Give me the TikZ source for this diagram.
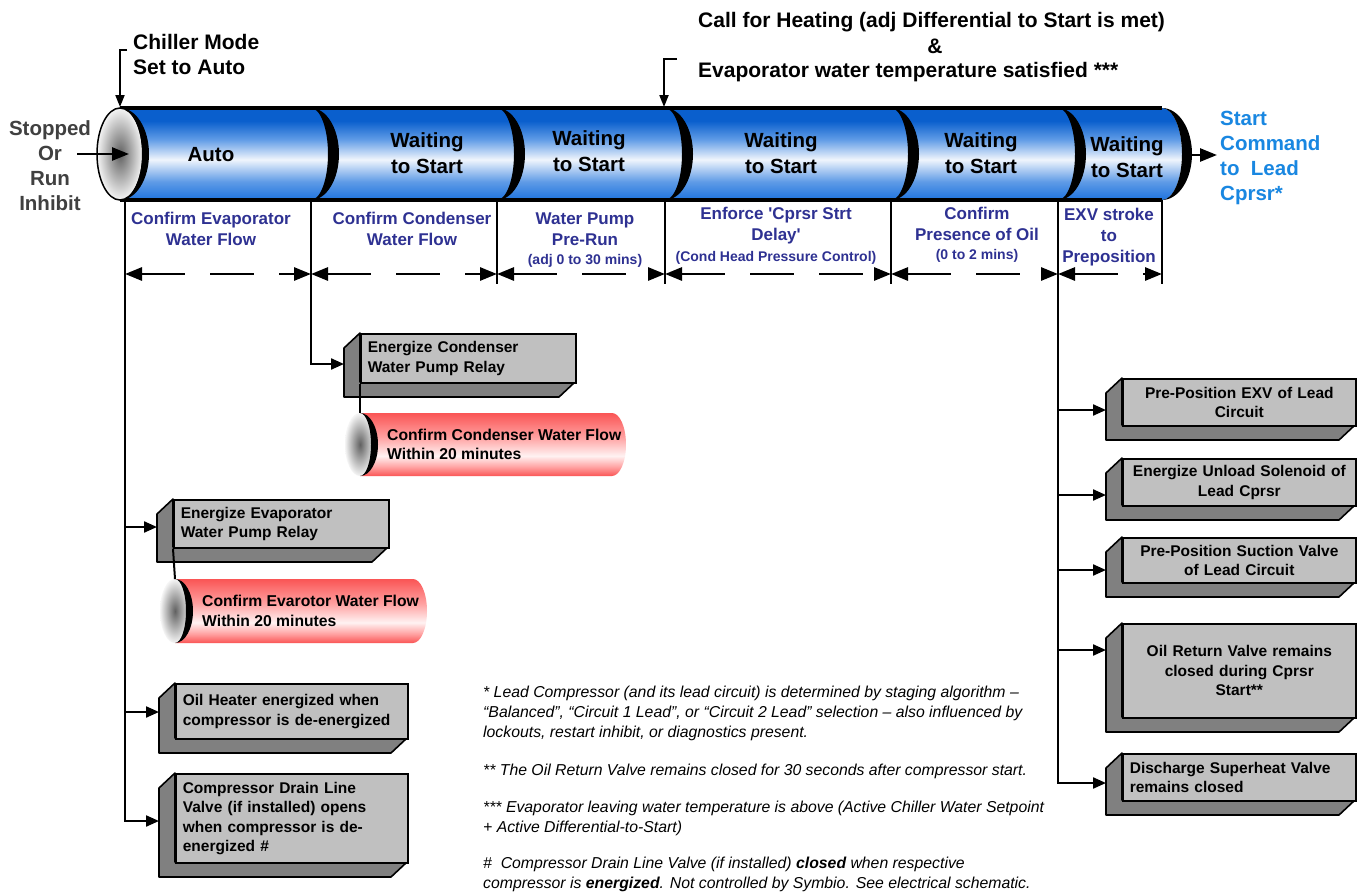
\documentclass[tikz,border=0pt]{standalone}
\usepackage{fontspec}
\setmainfont{Liberation Sans}
\usetikzlibrary{arrows.meta}
\definecolor{lblc}{RGB}{46,49,146}
\definecolor{cmdc}{RGB}{25,135,225}
\definecolor{stopc}{RGB}{64,64,64}
\definecolor{frontc}{RGB}{192,192,192}
\definecolor{sidec}{RGB}{128,128,128}
\definecolor{bdark}{RGB}{10,95,205}
\definecolor{bbot}{RGB}{30,115,222}
\definecolor{bmid}{RGB}{95,155,230}
\definecolor{blight}{RGB}{240,245,252}
\definecolor{rdark}{RGB}{250,85,85}
\definecolor{rmid}{RGB}{255,160,160}
\definecolor{rlight}{RGB}{255,242,242}
\pgfdeclareverticalshading{bluecyl}{100bp}{color(0bp)=(bbot); color(25bp)=(bbot); color(35bp)=(bmid); color(47bp)=(blight); color(58bp)=(bmid); color(68bp)=(bdark); color(75bp)=(bdark); color(100bp)=(bdark)}
\pgfdeclareverticalshading{redcyl}{100bp}{color(0bp)=(rdark); color(25bp)=(rdark); color(32bp)=(rmid); color(41bp)=(rlight); color(56bp)=(rmid); color(75bp)=(rdark); color(100bp)=(rdark)}

\newcommand{\tdbox}[8]{%
  \filldraw[face3d] (#2,#3) -- (#2-16,#3+15) -- (#2-16,#5+15) -- (#4-16,#5+15) -- (#4,#5) -- (#2,#5) -- cycle;
  \pgfmathsetmacro\tdw{#4-#2}%
  \pgfmathsetmacro\tdt{#4-#2-14}%
  \pgfmathsetmacro\tdh{#5-#3}%
  \node[boxface, anchor=north west, minimum width=\tdw pt, minimum height=\tdh pt, text width=\tdt pt, align=#6] (#1) at (#2,#3) {#7};
  \coordinate (#1-in) at (#2-16,#8);
}
\newcommand{\redcyl}[6]{%
  \pgfmathsetmacro\rcy{(#4+#5)/2}%
  \pgfmathsetmacro\rcr{(#5-#4)/2}%
  \shade[shading=redcyl] (#2,#4) -- (#3,#4) arc[start angle=-90,end angle=90,x radius=14,y radius=\rcr] -- (#2,#5) -- cycle;
  \shade[inner color=black!62, outer color=black!4] (#2,\rcy) ellipse[x radius=15,y radius=\rcr];
  \fill (#2,#4) arc[start angle=-90,end angle=90,x radius=18,y radius=\rcr] arc[start angle=90,end angle=-90,x radius=11,y radius=\rcr] -- cycle;
  \node[redtxt, anchor=west] (#1) at (#2+27,\rcy) {#6};
  \coordinate (#1-top) at (#2,#4);
}

\begin{document}
\begin{tikzpicture}[x=1pt,y=-1pt,
  cyltxt/.style={font=\fontsize{20.5}{26}\selectfont\bfseries, align=center, inner sep=0pt},
  lbltxt/.style={font=\fontsize{17}{21}\selectfont\bfseries, text=lblc, align=center, inner sep=0pt},
  lblsmall/.style={font=\fontsize{14}{16}\selectfont\bfseries, text=lblc, inner sep=0pt},
  toptxt/.style={font=\fontsize{21}{25}\selectfont\bfseries, inner sep=0pt},
  redtxt/.style={font=\fontsize{15.7}{19.5}\selectfont\bfseries, align=left, inner sep=0pt},
  boxface/.style={draw, fill=frontc, line width=1.6pt, inner sep=0pt, font=\fontsize{15.5}{19.5}\selectfont\bfseries},
  face3d/.style={fill=sidec, draw=black, line width=1.6pt, line join=round},
  conn/.style={line width=2.2pt, -{Triangle[length=13pt,width=11pt]}},
  bigconn/.style={line width=2.6pt, -{Triangle[length=17pt,width=13pt]}},
  vline/.style={line width=2.2pt},
  dimarrow/.style={line width=2.8pt, dash pattern=on 44pt off 25pt, {Triangle[length=17pt,width=13pt]}-{Triangle[length=17pt,width=13pt]}},
  note/.style={font=\fontsize{15.8}{20}\selectfont\itshape, align=left, inner sep=0pt, anchor=west}]
\useasboundingbox (0,0) rectangle (1357,894);
\fill[white] (0,0) rectangle (1357,894);

% ---------- main cylinder ----------
\shade[shading=bluecyl] (120,108) -- (1162,108) arc[start angle=-90,end angle=90,x radius=20,y radius=46] -- (120,200) -- cycle;
\draw[line width=3.2pt] (120,108) -- (1162,108) (120,200) -- (1162,200);
\shadedraw[inner color=black!62, outer color=black!4, draw=black, line width=1.5pt] (120,154) ellipse[x radius=23,y radius=46];
\foreach \xx/\ro/\ri in {120/29/22, 311/28/17, 497/28/17, 665/28/17, 891/28/17, 1058/28/17, 1162/30/20}
  \fill (\xx,108) arc[start angle=-90,end angle=90,x radius=\ro,y radius=46] arc[start angle=90,end angle=-90,x radius=\ri,y radius=46] -- cycle;

\node[cyltxt] (s1) at (211,155) {Auto};
\node[cyltxt] (s2) at (427,153) {Waiting\\to Start};
\node[cyltxt] (s3) at (589,151) {Waiting\\to Start};
\node[cyltxt] (s4) at (781,153) {Waiting\\to Start};
\node[cyltxt] (s5) at (981,153) {Waiting\\to Start};
\node[cyltxt] (s6) at (1127,157) {Waiting\\to Start};

% ---------- labels under the cylinder ----------
\node[lbltxt] (l1) at (211,229) {Confirm Evaporator\\Water Flow};
\node[lbltxt] (l2) at (412,229) {Confirm Condenser\\Water Flow};
\node[lbltxt] (l3) at (585,229) {Water Pump\\Pre-Run};
\node[lblsmall] (l3s) at (585,261) {(adj 0 to 30 mins)};
\node[lbltxt] (l4) at (776,226) {Enforce \textquotesingle Cprsr Strt\\Delay\textquotesingle};
\node[lblsmall] (l4s) at (776,258) {(Cond Head Pressure Control)};
\node[lbltxt] (l5) at (977,224) {Confirm\\Presence of Oil};
\node[lblsmall] (l5s) at (977,256) {(0 to 2 mins)};
\node[lbltxt] (l6) at (1109,237) {EXV stroke\\to\\Preposition};

% ---------- top texts ----------
\node[toptxt, align=left, anchor=west] (chm) at (133,54) {Chiller Mode\\Set to Auto};
\node[toptxt, anchor=west] (call1) at (698,22) {Call for Heating (adj Differential to Start is met)};
\node[toptxt] (amp) at (935,46) {\&};
\node[toptxt, anchor=west] (call2) at (698,72) {Evaporator water temperature satisfied ***};
\node[cyltxt, text=stopc, font=\fontsize{20.5}{25}\selectfont\bfseries] (stop) at (50,166) {Stopped\\Or\\Run\\Inhibit};
\node[cyltxt, text=cmdc, align=left, anchor=west, font=\fontsize{20.5}{25}\selectfont\bfseries] (startcmd) at (1220,158) {Start\\Command\\to\ \ Lead\\Cprsr*};

\coordinate (chmtick) at (127,50);
\coordinate (top0) at (120,107);
\coordinate (calltick) at (677,59);
\coordinate (top3) at (664,107);
\coordinate (stopout) at (77,154);
\coordinate (capin) at (129,154);
\coordinate (cylend) at (1190,155);
\coordinate (cmdin) at (1217,155);
\draw[line width=2pt, -{Triangle[length=12pt,width=9pt]}] (chmtick) -| (top0);
\draw[line width=2pt, -{Triangle[length=12pt,width=9pt]}] (calltick) -| (top3);
\draw[bigconn] (stopout) -- (capin);
\draw[bigconn] (cylend) -- (cmdin);

% ---------- duration arrows ----------
\coordinate (tk0) at (125,200); \coordinate (tk1) at (311,200); \coordinate (tk2) at (497,200);
\coordinate (tk3) at (665,200); \coordinate (tk4) at (891,200); \coordinate (tk5) at (1058,200);
\coordinate (tk6) at (1162,200);
\coordinate (ab0) at (125,274); \coordinate (ab1) at (311,274); \coordinate (ab2) at (497,274);
\coordinate (ab3) at (665,274); \coordinate (ab4) at (891,274); \coordinate (ab5) at (1058,274);
\coordinate (ab6) at (1162,274);
\coordinate (bt2) at (497,284); \coordinate (bt3) at (665,284); \coordinate (bt4) at (891,284); \coordinate (bt6) at (1162,284);
\draw[vline] (tk2) -- (bt2);
\draw[vline] (tk3) -- (bt3);
\draw[vline] (tk4) -- (bt4);
\draw[vline] (tk6) -- (bt6);
\draw[dimarrow] (ab0) -- (ab1);
\draw[dimarrow] (ab1) -- (ab2);
\draw[dimarrow] (ab2) -- (ab3);
\draw[dimarrow] (ab3) -- (ab4);
\draw[dimarrow] (ab4) -- (ab5);
\draw[dimarrow] (ab5) -- (ab6);

% ---------- boxes ----------
\tdbox{condbox}{360}{333}{575}{382}{left}{Energize Condenser\\Water Pump Relay}{364}
\tdbox{evapbox}{173}{499}{388}{547}{left}{Energize Evaporator\\Water Pump Relay}{527}
\tdbox{heater}{175}{683}{407}{738}{left}{Oil Heater energized when\\compressor is de-energized}{712}
\tdbox{drain}{175}{773}{407}{862}{left}{Compressor Drain Line\\Valve (if installed) opens\\when compressor is de-\\energized \#}{821}
\tdbox{exv}{1122}{378}{1355}{425}{center}{Pre-Position EXV of Lead\\Circuit}{410}
\tdbox{unload}{1122}{458}{1355}{505}{center}{Energize Unload Solenoid of\\Lead Cprsr}{495}
\tdbox{suction}{1122}{537}{1355}{582}{center}{Pre-Position Suction Valve\\of Lead Circuit}{570}
\tdbox{oilret}{1122}{623}{1355}{717}{center}{Oil Return Valve remains\\closed during Cprsr\\Start**}{650}
\tdbox{dsh}{1122}{753}{1355}{800}{left}{Discharge Superheat Valve\\remains closed}{783}

\redcyl{redcond}{360}{612}{413}{476}{Confirm Condenser Water Flow\\Within 20 minutes}
\redcyl{redevap}{175}{413}{579}{643}{Confirm Evarotor Water Flow\\Within 20 minutes}

\draw[line width=2pt] (condbox.south west) -- (redcond-top);
\draw[line width=2pt] (evapbox.south west) -- (redevap-top);

% ---------- connectors ----------
\draw[conn] (tk1) |- (condbox-in);
\draw[conn] (tk0) |- (evapbox-in);
\draw[conn] (tk0) |- (heater-in);
\draw[conn] (tk0) |- (drain-in);
\draw[conn] (tk5) |- (exv-in);
\draw[conn] (tk5) |- (unload-in);
\draw[conn] (tk5) |- (suction-in);
\draw[conn] (tk5) |- (oilret-in);
\draw[conn] (tk5) |- (dsh-in);

% ---------- notes ----------
\node[note] (fn1) at (483,713) {* Lead Compressor (and its lead circuit) is determined by staging algorithm –\\“Balanced”, “Circuit 1 Lead”, or “Circuit 2 Lead” selection – also influenced by\\lockouts, restart inhibit, or diagnostics present.};
\node[note] (fn2) at (483,771) {** The Oil Return Valve remains closed for 30 seconds after compressor start.};
\node[note] (fn3) at (483,818) {*** Evaporator leaving water temperature is above (Active Chiller Water Setpoint\\+ Active Differential-to-Start)};
\node[note] (fn4) at (483,874) {\#\ \ Compressor Drain Line Valve (if installed) \textbf{closed} when respective\\compressor is \textbf{energized}. Not controlled by Symbio. See electrical schematic.};
\end{tikzpicture}
\end{document}
